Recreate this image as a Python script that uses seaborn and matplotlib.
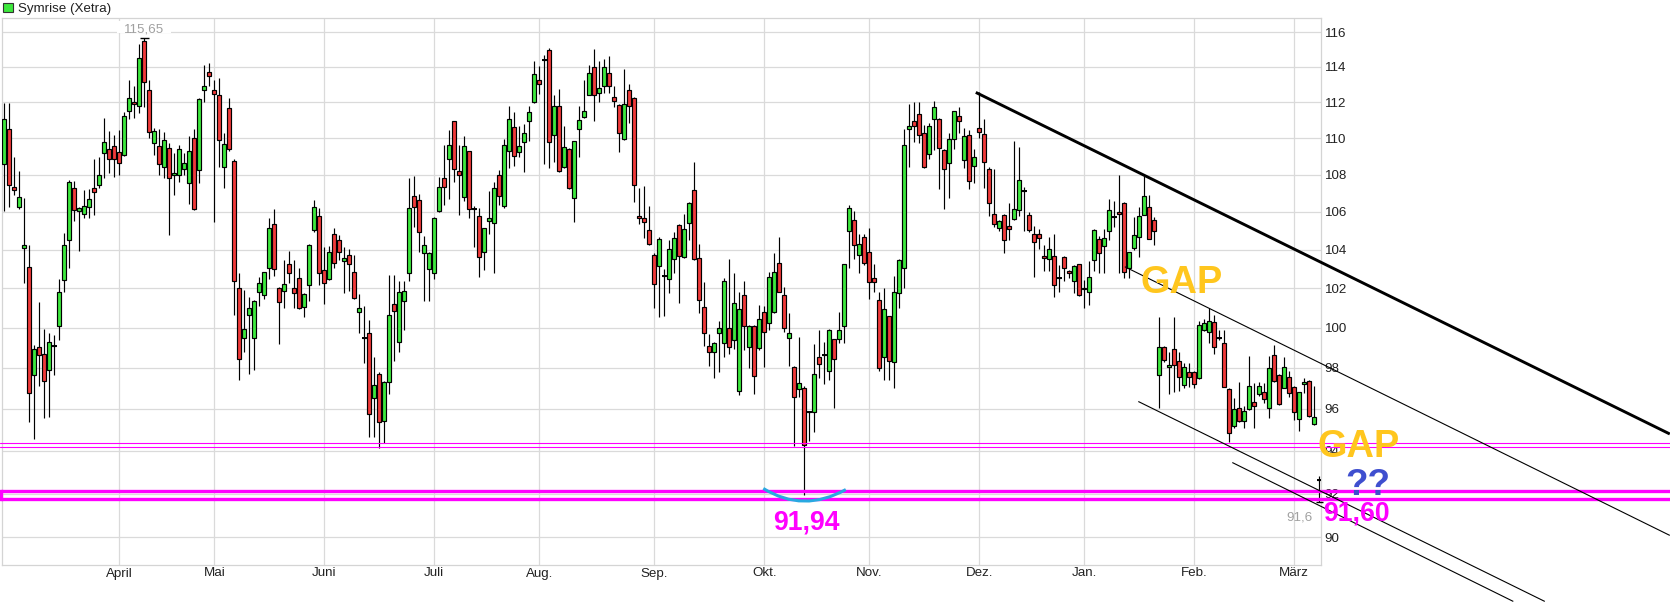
import numpy as np
import pandas as pd
import matplotlib
matplotlib.use("Agg")
import matplotlib.pyplot as plt
import seaborn as sns
from matplotlib.path import Path
from matplotlib.patches import PathPatch, Rectangle
from matplotlib.ticker import FixedLocator, NullLocator

# ---------------- data (Xetra trading days, Mar 2022 - Mar 2023) ----------------
opens = [
    108.56, 110.5, 107.30, 106.23, 104.1, 103.08, 97.65, 99.02, 98.69, 97.9,
    99.07, 100.08, 102.43, 104.53, 107.29, 106.04, 105.86, 106.27, 107.25, 107.46,
    109.17, 109.39, 109.54, 109.22, 109.07, 111.53, 112.02, 111.79, 115.5, 112.66,
    109.72, 109.57, 108.39, 109.44, 107.96, 107.96, 108.28, 107.52, 110.0, 108.22,
    112.7, 113.71, 112.7, 112.38, 108.43, 111.68, 108.74, 102.0, 99.47, 100.64,
    99.47, 101.8, 101.66, 103.03, 105.33, 102.0, 101.86, 103.23, 102.03, 102.51,
    101.07, 102.17, 105.03, 105.79, 102.94, 102.48, 104.82, 104.52, 103.4, 103.71,
    102.82, 100.78, 99.5, 99.71, 96.54, 97.69, 95.4, 97.29, 101.19, 99.27,
    101.36, 102.77, 106.86, 106.61, 103.8, 102.98, 102.77, 106.04, 107.82, 108.83,
    110.93, 108.2, 106.8, 109.26, 106.14, 105.79, 103.88, 105.52, 105.38, 108.0,
    106.32, 109.31, 110.62, 109.22, 109.78, 110.97, 112.02, 113.23, 114.38, 115.0,
    110.19, 111.81, 108.43, 109.39, 106.71, 110.5, 111.17, 112.43, 113.98, 112.53,
    112.94, 113.66, 112.3, 111.83, 109.94, 112.68, 112.25, 105.79, 105.69, 105.03,
    103.74, 103.15, 102.63, 102.46, 103.49, 105.27, 103.62, 105.42, 107.18, 103.54,
    101.07, 99.1, 98.78, 99.71, 99.22, 100.0, 99.38, 96.86, 101.66, 99.02,
    100.09, 98.97, 100.8, 100.23, 100.8, 103.28, 101.66, 99.46, 98.05, 96.98,
    97.03, 95.84, 95.84, 98.53, 98.62, 97.84, 99.41, 99.41, 100.09, 105.0,
    105.54, 103.71, 104.66, 103.88, 102.54, 101.41, 98.53, 100.58, 98.29, 101.75,
    103.07, 110.5, 110.93, 111.34, 110.28, 109.13, 111.05, 111.05, 109.35, 108.61,
    109.94, 111.2, 108.8, 110.15, 108.46, 110.56, 110.22, 108.28, 105.88, 105.15,
    105.83, 105.22, 105.62, 106.09, 107.1, 105.85, 104.8, 104.83, 103.67, 103.53,
    103.67, 102.51, 103.62, 102.9, 102.39, 103.23, 102.03, 101.79, 103.45, 104.54,
    104.17, 105.0, 105.71, 105.97, 106.49, 103.07, 104.09, 104.66, 105.85, 106.23,
    105.57, 97.67, 99.02, 98.05, 98.92, 98.32, 97.14, 97.79, 97.79, 97.51,
    99.9, 99.76, 100.28, 99.46, 99.25, 96.98, 95.17, 96.05, 95.44, 96.0,
    96.33, 96.7, 96.83, 96.05, 98.65, 97.67, 97.03, 97.56, 97.08, 95.54,
    97.19, 97.35, 95.3, 92.65,
]
highs = [
    111.93, 111.93, 108.94, 108.2, 106.71, 104.26, 99.15, 101.3, 99.93, 99.71,
    99.64, 102.5, 104.85, 107.7, 107.66, 106.27, 107.16, 107.2, 108.83, 108.93,
    111.12, 110.41, 110.19, 110.47, 111.46, 113.23, 112.91, 115.33, 115.65, 113.28,
    110.56, 110.5, 110.31, 109.72, 109.17, 109.63, 109.17, 110.09, 110.5, 112.25,
    114.13, 114.23, 113.28, 113.38, 110.28, 112.25, 108.83, 102.77, 101.92, 101.58,
    101.41, 102.56, 102.85, 105.69, 106.14, 102.05, 103.45, 103.91, 103.45, 103.03,
    101.75, 104.31, 106.62, 106.21, 104.14, 104.19, 105.15, 104.78, 104.14, 104.02,
    103.74, 101.7, 101.1, 100.37, 98.53, 97.8, 97.35, 102.67, 102.67, 102.37,
    102.37, 107.79, 107.91, 106.93, 104.74, 103.9, 105.7, 107.88, 109.59, 110.47,
    110.95, 109.63, 110.13, 109.3, 106.3, 106.18, 105.15, 107.12, 107.61, 108.24,
    109.94, 111.77, 111.46, 110.69, 110.78, 111.77, 114.36, 114.04, 114.7, 115.1,
    112.38, 112.72, 110.69, 109.45, 109.85, 111.77, 113.28, 114.13, 115.05, 114.36,
    114.46, 114.65, 112.91, 111.9, 113.9, 113.0, 112.3, 107.25, 107.38, 106.3,
    103.8, 104.66, 102.97, 104.48, 104.92, 105.35, 105.88, 106.5, 108.7, 104.28,
    102.34, 99.66, 99.3, 100.36, 102.51, 103.53, 102.77, 101.79, 102.38, 100.15,
    100.15, 101.15, 101.1, 102.85, 103.8, 104.66, 102.09, 100.72, 98.11, 99.53,
    97.1, 95.9, 99.18, 99.87, 99.3, 99.95, 99.45, 100.8, 103.25, 106.38,
    106.05, 104.83, 104.8, 105.15, 103.23, 101.79, 102.0, 100.6, 102.63, 103.5,
    110.52, 111.9, 112.0, 112.0, 110.7, 110.84, 112.08, 111.1, 109.4, 110.28,
    111.5, 111.72, 110.56, 110.47, 109.39, 112.6, 111.03, 108.39, 108.3, 105.55,
    105.9, 106.49, 109.81, 109.5, 107.33, 105.97, 105.22, 105.1, 104.22, 104.66,
    104.83, 103.19, 103.65, 102.95, 103.2, 103.25, 102.43, 103.4, 105.1, 104.71,
    105.1, 106.67, 106.58, 108.0, 106.52, 103.9, 105.71, 106.23, 107.93, 106.89,
    105.71, 100.55, 99.1, 98.77, 100.55, 98.77, 98.24, 98.24, 97.85, 100.36,
    100.45, 100.97, 100.65, 99.87, 99.87, 97.0, 96.53, 97.3, 96.13, 98.57,
    97.27, 97.3, 97.27, 98.57, 99.14, 97.7, 98.52, 97.84, 97.1, 96.83,
    97.51, 97.4, 97.1, 92.8,
]
lows = [
    106.05, 106.27, 106.88, 106.12, 102.26, 95.35, 94.56, 97.1, 95.58, 95.62,
    97.67, 99.39, 101.8, 103.03, 105.52, 103.93, 105.69, 105.65, 105.83, 107.25,
    107.79, 108.06, 107.88, 108.0, 109.0, 111.03, 111.12, 111.4, 111.72, 110.0,
    109.07, 108.0, 107.79, 104.78, 106.89, 107.61, 107.96, 106.41, 106.1, 107.55,
    112.02, 112.91, 105.47, 108.43, 107.29, 109.3, 100.64, 97.4, 98.77, 97.71,
    97.89, 101.12, 101.46, 102.5, 102.63, 99.17, 100.98, 102.26, 100.98, 100.95,
    100.56, 101.37, 104.9, 102.17, 101.19, 102.43, 103.03, 103.45, 101.75, 101.88,
    101.45, 99.71, 98.25, 94.68, 94.68, 94.13, 94.37, 96.7, 98.33, 98.77,
    99.88, 102.4, 105.17, 103.88, 101.36, 101.36, 102.5, 106.0, 106.36, 106.66,
    107.61, 105.83, 106.59, 105.69, 104.14, 102.6, 102.94, 104.8, 102.77, 106.36,
    106.21, 108.37, 108.46, 108.98, 108.15, 109.81, 111.93, 112.47, 108.56, 108.37,
    108.7, 108.15, 108.33, 107.2, 105.47, 108.93, 111.1, 112.4, 110.93, 112.02,
    112.53, 112.5, 111.72, 109.22, 109.9, 110.84, 106.54, 105.33, 104.62, 104.25,
    101.02, 100.56, 100.58, 101.75, 102.8, 101.27, 103.55, 104.48, 103.45, 100.75,
    99.08, 98.11, 97.51, 97.79, 98.52, 98.7, 98.93, 96.67, 98.89, 98.0,
    96.74, 98.9, 98.05, 99.9, 100.75, 101.8, 99.79, 98.11, 94.24, 96.58,
    91.94, 94.48, 94.88, 97.51, 97.19, 97.4, 96.05, 99.25, 99.25, 103.02,
    103.49, 102.8, 103.2, 101.44, 101.83, 97.84, 97.43, 97.4, 97.03, 100.97,
    102.0, 108.43, 109.76, 109.72, 108.35, 108.83, 109.35, 107.22, 106.15, 106.73,
    109.39, 110.28, 108.33, 107.22, 107.55, 110.0, 107.26, 105.79, 105.18, 105.0,
    103.8, 104.48, 105.55, 105.79, 105.0, 104.95, 102.56, 104.05, 102.9, 102.9,
    101.58, 101.83, 102.39, 102.51, 101.75, 101.6, 100.97, 101.15, 102.9, 102.77,
    102.8, 104.48, 105.18, 102.77, 102.51, 102.51, 103.97, 103.62, 105.8, 104.55,
    104.26, 96.05, 98.3, 96.73, 96.81, 96.86, 97.03, 97.08, 97.03, 97.46,
    99.85, 99.22, 98.68, 99.4, 97.05, 94.41, 95.1, 95.38, 95.09, 95.95,
    95.09, 96.62, 96.3, 95.57, 97.3, 96.2, 97.0, 96.58, 95.46, 94.93,
    96.78, 95.6, 95.25, 91.6,
]
closes = [
    111.07, 107.41, 107.14, 106.80, 104.26, 96.75, 98.93, 98.62, 97.36, 99.27,
    99.07, 101.8, 104.26, 107.62, 106.07, 106.18, 106.32, 106.66, 107.04, 108.0,
    109.78, 108.83, 108.83, 108.61, 111.21, 112.25, 111.91, 114.51, 113.15, 110.34,
    110.37, 108.56, 109.89, 107.79, 108.07, 109.39, 108.65, 109.26, 106.14, 112.19,
    112.94, 113.47, 112.47, 109.89, 109.68, 109.39, 102.4, 98.44, 99.93, 100.98,
    101.36, 102.26, 102.82, 105.12, 102.98, 101.29, 102.2, 102.77, 101.75, 100.98,
    101.7, 104.26, 106.27, 102.77, 102.26, 103.88, 103.33, 103.88, 103.54, 103.23,
    101.49, 100.98, 99.5, 95.75, 97.17, 95.37, 97.3, 100.66, 100.85, 101.83,
    101.88, 106.18, 106.23, 104.95, 104.26, 103.85, 105.65, 107.3, 107.3, 109.59,
    108.28, 107.96, 109.54, 106.14, 106.14, 103.62, 105.12, 105.69, 107.25, 106.86,
    109.63, 111.07, 109.02, 109.57, 110.28, 111.46, 113.6, 113.04, 114.38, 109.78,
    111.81, 108.2, 109.5, 107.25, 109.81, 110.99, 111.49, 113.64, 112.43, 112.81,
    113.98, 112.94, 112.09, 110.28, 111.91, 111.81, 107.46, 105.65, 105.47, 104.31,
    102.2, 104.57, 102.63, 104.05, 104.6, 103.67, 105.06, 106.45, 103.49, 101.38,
    99.74, 98.81, 99.25, 100.0, 102.39, 99.02, 101.24, 100.92, 100.07, 100.09,
    97.6, 100.45, 99.79, 102.6, 102.85, 101.83, 100.0, 99.71, 96.58, 97.27,
    94.26, 95.84, 97.71, 98.21, 98.62, 99.9, 98.44, 99.9, 103.25, 106.2,
    104.23, 104.31, 103.32, 102.34, 102.34, 98.0, 100.92, 98.32, 101.83, 103.45,
    109.6, 110.65, 110.65, 110.19, 108.39, 110.69, 111.71, 109.44, 108.28, 109.94,
    111.48, 110.96, 110.09, 107.64, 108.93, 110.34, 108.7, 106.49, 105.36, 105.5,
    104.52, 105.1, 106.14, 107.69, 107.1, 105.05, 104.4, 104.62, 103.57, 104.05,
    102.17, 102.51, 103.07, 102.77, 103.15, 101.66, 101.95, 102.56, 105.05, 103.84,
    104.62, 106.11, 105.71, 105.88, 102.85, 103.88, 104.78, 105.79, 106.82, 104.57,
    105.0, 99.02, 98.4, 98.16, 98.16, 97.56, 98.05, 97.56, 97.19, 100.15,
    100.25, 100.36, 99.05, 99.46, 97.08, 94.83, 96.0, 95.41, 95.92, 97.11,
    96.13, 97.11, 96.5, 98.0, 97.35, 96.26, 98.05, 96.78, 95.86, 96.83,
    97.3, 95.68, 95.62, 92.65,
]

month_labels = ["April", "Mai", "Juni", "Juli", "Aug.", "Sep.", "Okt.",
                "Nov.", "Dez.", "Jan.", "Feb.", "März"]
month_start_idx = [23, 42, 64, 86, 107, 130, 152, 173, 195, 216, 238, 258]
y_ticks = [90, 92, 94, 96, 98, 100, 102, 104, 106, 108, 110, 112, 114, 116]

# chart annotations (trading-day index, price)
trend_main = [(194.3, 112.55), (333.1, 94.8)]
channel_upper = [(224.1, 103.11), (333.1, 90.09)]
channel_lower = [(226.8, 96.36), (308.1, 87.15)]
channel_lower2 = [(245.6, 93.45), (301.8, 87.15)]
pink_thin_levels = [94.35, 94.16]
pink_box_levels = [92.11, 91.75]
high_mark = (28, 115.65)
low_mark = (263, 91.6)

n = min(len(opens), len(highs), len(lows), len(closes))
df = pd.DataFrame({"idx": np.arange(n), "open": opens[:n], "high": highs[:n],
                   "low": lows[:n], "close": closes[:n]})
df["up"] = df["close"] >= df["open"]

# ---------------- styling ----------------
sns.set_theme(style="white")
plt.rcParams["font.family"] = ["Liberation Sans", "DejaVu Sans"]

W, H = 1670, 602
fig = plt.figure(figsize=(W / 100, H / 100), dpi=100)
fig.patch.set_facecolor("white")
ax = fig.add_axes([2.3 / W, 37 / H, (1320.7 - 2.3) / W, (565 - 18.3) / H])
ax.set_facecolor("white")

ax.set_yscale("log")
ax.set_ylim(88.76, 116.82)
ax.set_xlim(-0.4, 263.28)
ax.yaxis.set_major_locator(FixedLocator(y_ticks))
ax.yaxis.set_minor_locator(NullLocator())
ax.set_yticklabels([str(t) for t in y_ticks])
ax.yaxis.tick_right()
ax.tick_params(axis="y", length=0, pad=3.0, labelsize=9.6, colors="#222222")
ax.xaxis.set_major_locator(FixedLocator(month_start_idx))
ax.xaxis.set_minor_locator(NullLocator())
ax.set_xticklabels(month_labels)
ax.tick_params(axis="x", length=0, pad=1.8, labelsize=9.6, colors="#222222")
ax.grid(True, color="#dadada", lw=0.9)
ax.set_axisbelow(True)
for s in ax.spines.values():
    s.set_color("#d4d4d4")
    s.set_linewidth(0.9)

GREEN = "#3DE83D"
RED = "#F03A3A"

# wicks
ax.vlines(df["idx"], df["low"], df["high"], color="black", lw=0.85, zorder=2)
# bodies
bottoms = np.minimum(df["open"], df["close"])
heights = np.abs(df["close"] - df["open"])
colors = [GREEN if u else RED for u in df["up"]]
ax.bar(df["idx"], heights, bottom=bottoms, width=0.78, color=colors,
       edgecolor="black", linewidth=0.85, zorder=3)
# dojis as horizontal ticks
doji = df[heights < 0.02]
ax.hlines(doji["open"], doji["idx"] - 0.48, doji["idx"] + 0.48, color="black",
          lw=1.4, zorder=4)
# high / low markers
ax.hlines(high_mark[1], high_mark[0] - 0.9, high_mark[0] + 0.9, color="black",
          lw=1.0, zorder=4)
ax.hlines(low_mark[1], low_mark[0] - 0.7, low_mark[0] + 0.7, color="black",
          lw=1.0, zorder=4, clip_on=False)

# pink support lines
for lv in pink_thin_levels:
    ax.plot([-0.9, 340], [lv, lv], color="#FF00FF", lw=0.8, zorder=5, clip_on=False)
x_box_left = -0.6
for lv in pink_box_levels:
    ax.plot([x_box_left, 340], [lv, lv], color="#FF00FF", lw=2.4, zorder=5,
            clip_on=False, solid_capstyle="butt")
ax.plot([x_box_left, x_box_left], pink_box_levels, color="#FF00FF", lw=2.4,
        zorder=5, clip_on=False, solid_capstyle="projecting")

# trend lines
for pts, lw in [(trend_main, 2.1), (channel_upper, 0.8), (channel_lower, 0.8),
                (channel_lower2, 0.8)]:
    xs, ys = zip(*pts)
    ax.plot(xs, ys, color="black", lw=lw, zorder=6, clip_on=False,
            solid_capstyle="butt")

# blue smile under the October low
smile = Path([(151.8, 92.24), (159.8, 91.1), (168.3, 92.19)],
             [Path.MOVETO, Path.CURVE3, Path.CURVE3])
ax.add_patch(PathPatch(smile, facecolor="none", edgecolor="#29A9E1", lw=2.2,
                       zorder=6, clip_on=False))

# ---------------- texts ----------------
def fx(px):
    return px / W


def fy(py):
    return 1 - py / H


fig.patches.append(Rectangle((fx(2.7), fy(12.2)), 10 / W, 9.5 / H,
                             transform=fig.transFigure, facecolor=GREEN,
                             edgecolor="#333333", lw=0.8))
fig.text(fx(17.5), fy(11.7), "Symrise (Xetra)", fontsize=9.6, color="#222222",
         ha="left", va="baseline")

fig.patches.append(Rectangle((fx(117), fy(33.3)), 54 / W, 12.6 / H,
                             transform=fig.transFigure, facecolor="white",
                             edgecolor="none", zorder=2))
fig.text(fx(144.5), fy(32), "115,65", fontsize=9.6, color="#A0A0A0",
         ha="center", va="baseline", zorder=3)
fig.text(fx(1313), fy(520), "91,6", fontsize=9.6, color="#A0A0A0",
         ha="right", va="baseline", zorder=3)

bold = dict(fontweight="bold", zorder=10)
fig.text(fx(1181.5), fy(293.3), "GAP", fontsize=27.4, color="#FFC61E",
         ha="center", va="baseline", **bold)
fig.text(fx(1359), fy(456.7), "GAP", fontsize=27.4, color="#FFC61E",
         ha="center", va="baseline", **bold)
fig.text(fx(1367.5), fy(495), "??", fontsize=26.5, color="#3F4FCF",
         ha="center", va="baseline", **bold)
fig.text(fx(1356.7), fy(520.7), "91,60", fontsize=19.2, color="#FF00FF",
         ha="center", va="baseline", **bold)
fig.text(fx(806.5), fy(530), "91,94", fontsize=19.2, color="#FF00FF",
         ha="center", va="baseline", **bold)

fig.savefig("out.png", dpi=100)
